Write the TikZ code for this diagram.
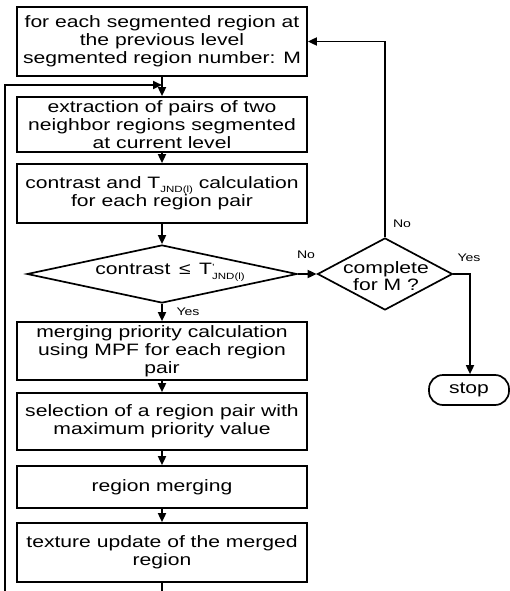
\documentclass[tikz,border=0pt]{standalone}
\usepackage{fontspec}
\setmainfont{Liberation Sans}[FakeStretch=1.28]
\usetikzlibrary{arrows.meta,shapes.geometric}
\newcommand\subtx[1]{\raisebox{-0.45ex}{\fontsize{9}{9}\selectfont #1}}
\newcommand\primesub[1]{\raisebox{-0.55ex}{\fontsize{9}{6}\selectfont\begin{tabular}[b]{@{}l@{}}'\\#1\end{tabular}}}
\begin{document}
\begin{tikzpicture}[x=1pt,y=-1pt,
  procbox/.style={draw,line width=1.7pt,minimum width=290pt,inner sep=0pt,align=center,font=\fontsize{16.5}{18}\selectfont},
  dia/.style={draw,diamond,line width=1.7pt,inner sep=0pt},
  txt/.style={inner sep=0pt,align=center,font=\fontsize{16.5}{17}\selectfont},
  lbl/.style={font=\fontsize{11}{12}\selectfont,inner sep=1pt},
  arr/.style={line width=1.7pt,-{Triangle[length=9pt,width=8pt]}},
  conn/.style={line width=1.7pt}
]
\useasboundingbox (0,0) rectangle (510,591);

\node[procbox,minimum height=69pt] (b1) at (162,41.5) {for each segmented region at\\the previous level\\segmented region number: M};
\node[procbox,minimum height=55pt] (b2) at (162,124.5) {extraction of pairs of two\\neighbor regions segmented\\at current level};
\node[procbox,minimum height=59pt] (b3) at (162,193.5) {contrast and T\subtx{JND(l)} calculation\\for each region pair};
\node[dia,minimum width=270pt,minimum height=58pt] (d1) at (162,274) {};
\node[txt] (d1t) at (170,272) {contrast \,≤\, T\primesub{JND(l)}};
\node[procbox,minimum height=58pt] (b4) at (162,351) {merging priority calculation\\using MPF for each region\\pair};
\node[procbox,minimum height=57pt] (b5) at (162,421.5) {selection of a region pair with\\maximum priority value};
\node[procbox,minimum height=42pt] (b6) at (162,487) {region merging};
\node[procbox,minimum height=59pt] (b7) at (162,552.5) {texture update of the merged\\region};

\node[dia,minimum width=135pt,minimum height=72pt] (d2) at (385,274) {};
\node[txt] (d2t) at (386,276) {complete\\for M ?};
\node[draw,line width=1.7pt,rounded corners=14pt,minimum width=80pt,minimum height=30pt,inner sep=0pt,font=\fontsize{16.5}{18}\selectfont] (stop) at (469,390) {stop};

\coordinate (loopstart) at (5,591);
\coordinate (loopend) at (162,85);
\coordinate (bottom) at (162,591);
\coordinate (rturn) at (470,275);

\draw[arr] (b1.south) -- (b2.north);
\draw[arr] (loopstart) |- (loopend);
\draw[arr] (b2.south) -- (b3.north);
\draw[arr] (b3.south) -- (d1.north);
\draw[arr] (d1.south) -- (b4.north);
\draw[arr] (b4.south) -- (b5.north);
\draw[arr] (b5.south) -- (b6.north);
\draw[arr] (b6.south) -- (b7.north);
\draw[conn] (b7.south) -- (bottom);
\draw[arr] (d1.east) -- (d2.west);
\draw[arr] (d2.north) |- (b1.east);
\draw[arr] (d2.east) -- (d2.east -| rturn) -- (stop.north -| rturn);

\node[lbl] (yes1) at (188,312) {Yes};
\node[lbl] (no1) at (306,255) {No};
\node[lbl] (no2) at (402,224) {No};
\node[lbl] (yes2) at (469,258) {Yes};
\end{tikzpicture}
\end{document}
